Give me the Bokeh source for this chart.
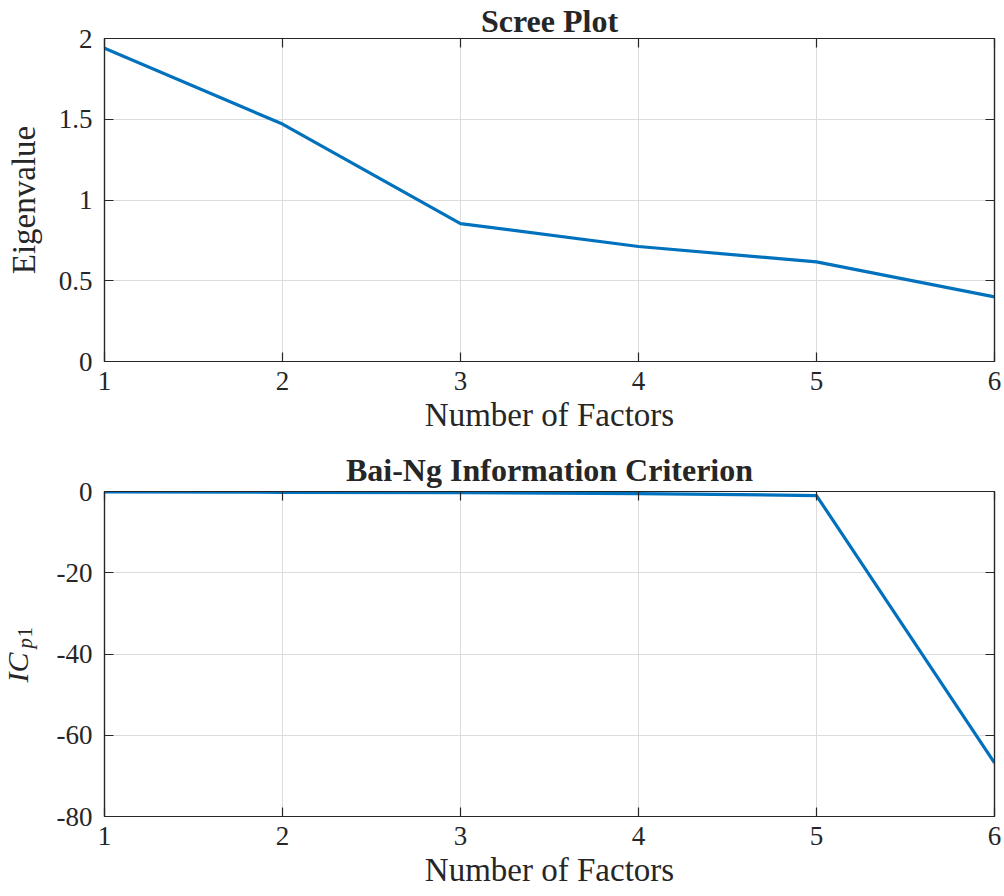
from bokeh.plotting import figure
from bokeh.layouts import column, row
from bokeh.models import Range1d, LinearAxis, FixedTicker, Label, CustomJSTickFormatter
from bokeh.embed import file_html
from bokeh.resources import INLINE
import math

# ---- data -------------------------------------------------------------
factors = [1, 2, 3, 4, 5, 6]
eigenvalues = [1.94, 1.47, 0.854, 0.712, 0.617, 0.40]
ic_p1 = [-0.1, -0.2, -0.3, -0.5, -1.0, -66.8]

x_ticks = [1, 2, 3, 4, 5, 6]
x_tick_labels = ["1", "2", "3", "4", "5", "6"]
eig_ticks = [0, 0.5, 1, 1.5, 2]
eig_tick_labels = ["0", "0.5", "1", "1.5", "2"]
ic_ticks = [-80, -60, -40, -20, 0]
ic_tick_labels = ["-80", "-60", "-40", "-20", "0"]

# ---- style ------------------------------------------------------------
FONT = "Liberation Serif"
LINE_COLOR = "#0072BD"
AXIS_COLOR = "#262626"
GRID_COLOR = "#dcdcdc"
TICK_SIZE = "27px"
LABEL_SIZE = "33px"
TITLE_SIZE = "32px"
W = 1004
STRIP_W = 50          # width of the strip holding the lower y label


def style_axis(ax, ticks, labels, show_labels=True):
    ax.ticker = FixedTicker(ticks=ticks)
    ax.axis_line_color = AXIS_COLOR
    ax.axis_line_width = 1.2
    ax.major_tick_line_color = AXIS_COLOR
    ax.major_tick_line_width = 1.2
    ax.major_tick_in = 9
    ax.major_tick_out = 0
    ax.minor_tick_line_color = None
    if show_labels:
        ax.major_label_overrides = {t: l for t, l in zip(ticks, labels)}
        ax.major_label_text_font = FONT
        ax.major_label_text_font_size = TICK_SIZE
        ax.major_label_text_color = AXIS_COLOR
    else:
        ax.formatter = CustomJSTickFormatter(code="return ''")
        ax.major_label_text_font_size = "0px"


def make_panel(title, y, y_range, y_ticks, y_labels, width, height, left, top, bottom,
               ylabel, title_standoff):
    p = figure(width=width, height=height, x_range=Range1d(1, 6), y_range=y_range,
               output_backend="svg", toolbar_location=None,
               min_border_left=left, min_border_right=10,
               min_border_top=top, min_border_bottom=bottom,
               background_fill_color="white", border_fill_color="white")
    p.title.text = title
    p.title.text_font = FONT
    p.title.text_font_size = TITLE_SIZE
    p.title.text_font_style = "bold"
    p.title.text_color = AXIS_COLOR
    p.title.align = "center"
    p.title.standoff = title_standoff

    p.outline_line_color = AXIS_COLOR
    p.outline_line_width = 1.2

    style_axis(p.xaxis[0], x_ticks, x_tick_labels)
    style_axis(p.yaxis[0], y_ticks, y_labels)
    p.xaxis[0].major_label_standoff = 10
    p.yaxis[0].major_label_standoff = 12
    p.xaxis[0].axis_label = "Number of Factors"
    p.xaxis[0].axis_label_text_font = FONT
    p.xaxis[0].axis_label_text_font_size = LABEL_SIZE
    p.xaxis[0].axis_label_text_font_style = "normal"
    p.xaxis[0].axis_label_text_color = AXIS_COLOR
    p.xaxis[0].axis_label_standoff = 4
    if ylabel:
        p.yaxis[0].axis_label = ylabel
        p.yaxis[0].axis_label_text_font = FONT
        p.yaxis[0].axis_label_text_font_size = LABEL_SIZE
        p.yaxis[0].axis_label_text_font_style = "normal"
        p.yaxis[0].axis_label_text_color = AXIS_COLOR
        p.yaxis[0].axis_label_standoff = 14

    # box ticks on the top and right edges
    top_ax = LinearAxis()
    style_axis(top_ax, x_ticks, x_tick_labels, show_labels=False)
    p.add_layout(top_ax, "above")
    right_ax = LinearAxis()
    style_axis(right_ax, y_ticks, y_labels, show_labels=False)
    p.add_layout(right_ax, "right")

    p.xgrid.ticker = FixedTicker(ticks=x_ticks)
    p.ygrid.ticker = FixedTicker(ticks=y_ticks)
    for g in (p.xgrid[0], p.ygrid[0]):
        g.grid_line_color = GRID_COLOR
        g.grid_line_width = 1

    p.line(factors, y, line_color=LINE_COLOR, line_width=3.2, line_join="round")
    return p


p1 = make_panel("Scree Plot", eigenvalues, Range1d(0, 2), eig_ticks, eig_tick_labels,
                W, 445, 104, 37, 84, "Eigenvalue", 0)
p2 = make_panel("Bai-Ng Information Criterion", ic_p1, Range1d(-80, 0), ic_ticks,
                ic_tick_labels, W - STRIP_W, 451, 104 - STRIP_W, 46, 80, None, 7)

# narrow strip left of the lower panel carrying its y label: IC with a p1 subscript
strip = figure(width=STRIP_W, height=451, x_axis_type=None, y_axis_type=None,
               output_backend="svg", toolbar_location=None,
               min_border=0, outline_line_color=None,
               background_fill_color="white", border_fill_color="white")
strip.grid.visible = False
ylab = dict(angle=math.pi / 2, x_units="screen", y_units="screen",
            text_font=FONT, text_color=AXIS_COLOR, text_align="left",
            text_baseline="alphabetic")
strip.add_layout(Label(x=17, y=134, text="IC", text_font_size="30px",
                       text_font_style="italic", **ylab))
strip.add_layout(Label(x=24, y=168, text="p", text_font_size="21px",
                       text_font_style="italic", **ylab))
strip.add_layout(Label(x=24, y=179, text="1", text_font_size="21px",
                       text_font_style="normal", **ylab))

layout = column(p1, row(strip, p2, spacing=0), spacing=0)
open("out.html", "w").write(file_html(layout, INLINE))
